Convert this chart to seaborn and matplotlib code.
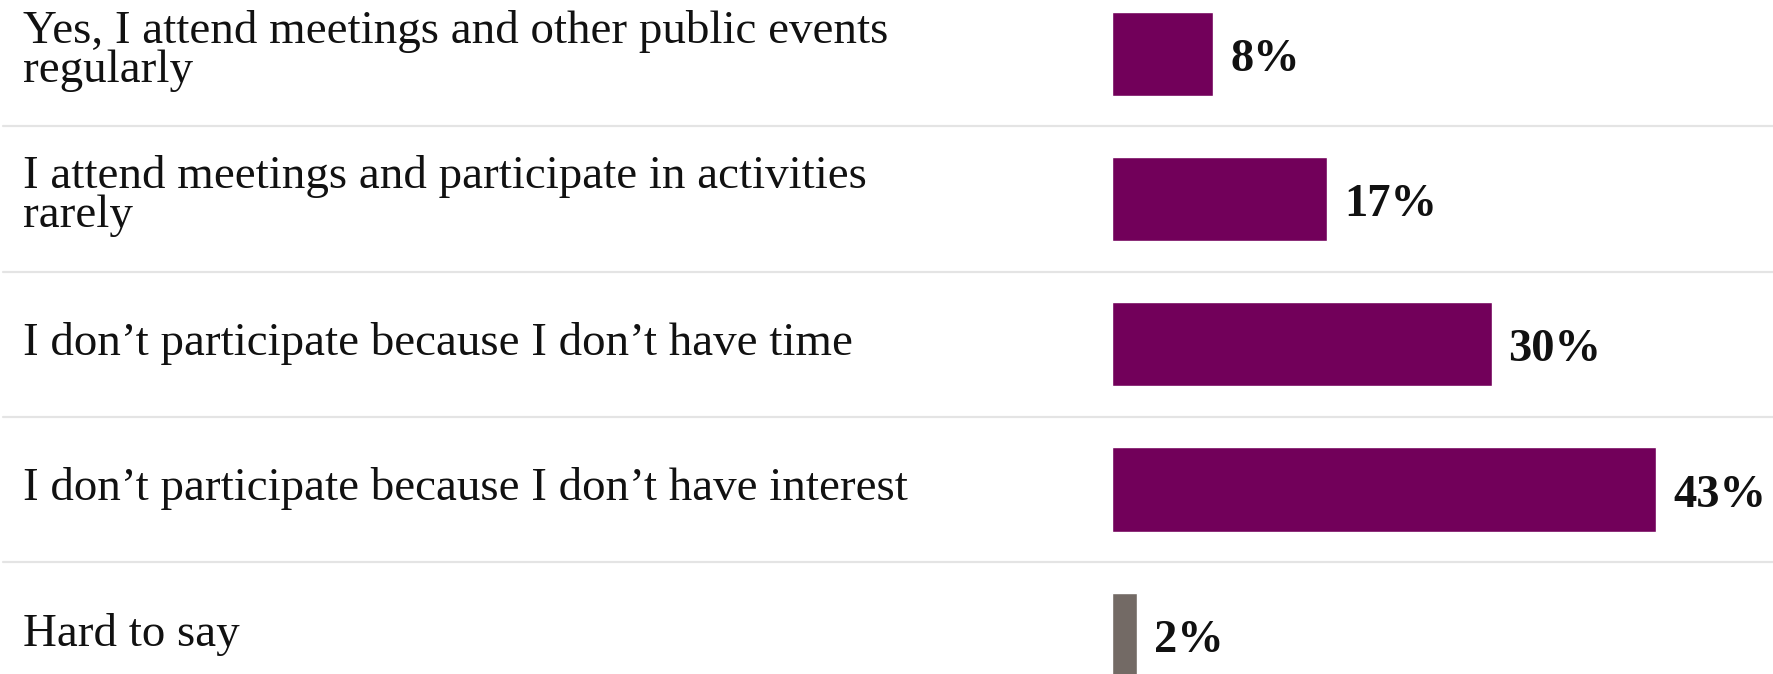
import matplotlib
matplotlib.use("Agg")
import matplotlib.pyplot as plt
import matplotlib.transforms as mtransforms
import seaborn as sns
import pandas as pd

answers = [
    "Yes, I attend meetings and other public events\nregularly",
    "I attend meetings and participate in activities\nrarely",
    "I don\u2019t participate because I don\u2019t have time",
    "I don\u2019t participate because I don\u2019t have interest",
    "Hard to say",
]
shares = [8, 17, 30, 43, 2]
bar_colors = ["#72005a", "#72005a", "#72005a", "#72005a", "#736a65"]

df = pd.DataFrame({"answer": answers, "share": shares})

sns.set_theme(style="white")
plt.rcParams["font.family"] = ["Liberation Serif", "DejaVu Serif"]

W, H = 1773, 674
fig = plt.figure(figsize=(W / 100, H / 100), dpi=100)
ax = fig.add_axes([0, 0, 1, 1])

sns.barplot(data=df, y="answer", x="share", hue="answer", palette=bar_colors,
            order=answers, hue_order=answers, width=0.58, legend=False,
            saturation=1, orient="h", ax=ax)

# one data unit = 12.65 px; bars start at x=1112 px
px = 12.65
x0 = 1112
ax.set_xlim(-x0 / px, (W - x0) / px)
top = 53.7
pitch = 145.3
ax.set_ylim((H - top) / pitch, -top / pitch)

for i in range(len(answers) - 1):
    ax.axhline(i + 0.5, xmin=3 / W, xmax=1, color="#e4e4e4", lw=1.6, zorder=0)

trans = mtransforms.blended_transform_factory(ax.transAxes, ax.transData)
for i, (lab, v) in enumerate(zip(answers, shares)):
    lines = lab.split("\n")
    if len(lines) == 1:
        offs = [10.6]
    else:
        offs = [-11.0, 28.0]
    for line, off in zip(lines, offs):
        ax.text(23 / W, i + off / pitch, line, transform=trans, ha="left",
                va="baseline", fontsize=33.8, color="#111111")
    ax.text(v + 17 / px, i + 17 / pitch, f"{v}%", ha="left", va="baseline",
            fontsize=33.5, fontweight="bold", color="#111111")

ax.set_axis_off()
fig.savefig("out.png", dpi=100)
